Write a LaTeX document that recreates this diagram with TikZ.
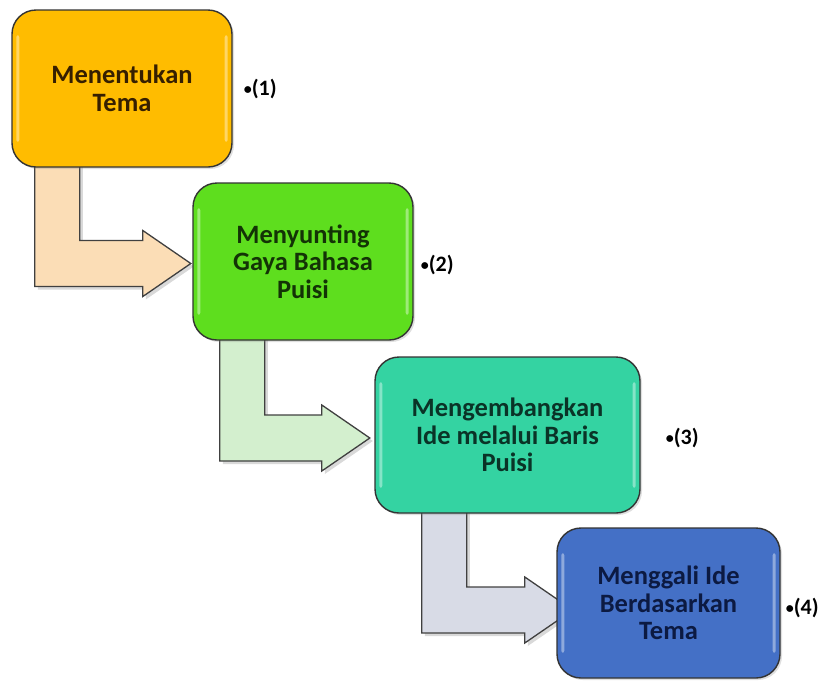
\documentclass[tikz,border=0pt]{standalone}
\usepackage{fontspec}
\setmainfont{Carlito}
\usetikzlibrary{calc,shadows}
\definecolor{c1}{HTML}{FFBC00}
\definecolor{c2}{HTML}{5EDE1E}
\definecolor{c3}{HTML}{34D3A2}
\definecolor{c4}{HTML}{4470C6}
\definecolor{t1}{HTML}{361F00}
\definecolor{t2}{HTML}{133306}
\definecolor{t3}{HTML}{0A3327}
\definecolor{t4}{HTML}{0C1A42}
\definecolor{a1}{HTML}{FBDDB6}
\definecolor{a2}{HTML}{D3EFCE}
\definecolor{a3}{HTML}{D8DBE6}
\newcommand\bentarrow[6]{%
  \path let \p1=(#1.south west), \p2=(#2.west) in
    [arrowshape, fill=#6]
    (\x1+#3pt, \y1+6pt) -- (\x1+#3pt, \y2-#5pt-23pt)
    -- (\x2+#4pt, \y2-#5pt-23pt) -- (\x2+#4pt, \y2-#5pt-33pt)
    -- (\x2+#4pt+48pt, \y2-#5pt) -- (\x2+#4pt, \y2-#5pt+33pt)
    -- (\x2+#4pt, \y2-#5pt+23pt) -- (\x1+#3pt+45pt, \y2-#5pt+23pt)
    -- (\x1+#3pt+45pt, \y1+6pt) -- cycle;}
\newcommand\boxshine[1]{%
  \fill[white, opacity=0.4, rounded corners=2pt]
    ($(#1.north west)+(5,26)$) rectangle ($(#1.south west)+(8,-26)$);
  \fill[white, opacity=0.4, rounded corners=2pt]
    ($(#1.north east)+(-8,26)$) rectangle ($(#1.south east)+(-5,-26)$);}
\newcommand\numtext[1]{{\fontsize{16}{16}\selectfont\raisebox{1pt}{•}}(#1)}
\begin{document}
\begin{tikzpicture}[x=1pt, y=-1pt,
  stepbox/.style={draw=black!80, line width=1.4pt, rounded corners=24pt,
    align=center, inner sep=0pt,
    font=\bfseries\fontsize{26.5}{27.5}\selectfont,
    drop shadow={shadow xshift=2pt, shadow yshift=-2pt, opacity=0.25}},
  arrowshape/.style={draw=black!75, line width=1.3pt, line join=miter,
    drop shadow={shadow xshift=3pt, shadow yshift=-3pt, opacity=0.3}},
  numlabel/.style={anchor=west, inner sep=0pt,
    font=\bfseries\fontsize{22}{24}\selectfont}]
\useasboundingbox (0,0) rectangle (831,681);
% boxes placed first (invisible) so arrows can refer to them
\path (122,88.5) node[minimum width=220pt, minimum height=157pt] (b1) {};
\path (303,261.5) node[minimum width=220pt, minimum height=157pt] (b2) {};
\path (507.5,435) node[minimum width=265pt, minimum height=156pt] (b3) {};
\path (668.5,603) node[minimum width=223pt, minimum height=150pt] (b4) {};
% arrows
\bentarrow{b1}{b2}{23}{-50}{2}{a1}
\bentarrow{b2}{b3}{27}{-53}{3}{a2}
\bentarrow{b3}{b4}{47}{-32}{7}{a3}
% visible boxes
\node[stepbox, fill=c1, text=t1, minimum width=220pt, minimum height=157pt] (n1) at (b1) {Menentukan\\Tema};
\boxshine{n1}
\node[stepbox, fill=c2, text=t2, minimum width=220pt, minimum height=157pt] (n2) at (b2) {Menyunting\\Gaya Bahasa\\Puisi};
\boxshine{n2}
\node[stepbox, fill=c3, text=t3, minimum width=265pt, minimum height=156pt] (n3) at (b3) {Mengembangkan\\Ide melalui Baris\\Puisi};
\boxshine{n3}
\node[stepbox, fill=c4, text=t4, minimum width=223pt, minimum height=150pt] (n4) at (b4) {Menggali Ide\\Berdasarkan\\Tema};
\boxshine{n4}
% labels
\node[numlabel] (l1) at ($(n1.east)+(11,0)$) {\numtext{1}};
\node[numlabel] (l2) at ($(n2.east)+(7,3)$) {\numtext{2}};
\node[numlabel] (l3) at ($(n3.east)+(25,3)$) {\numtext{3}};
\node[numlabel] (l4) at ($(n4.east)+(5,5)$) {\numtext{4}};
\end{tikzpicture}
\end{document}
